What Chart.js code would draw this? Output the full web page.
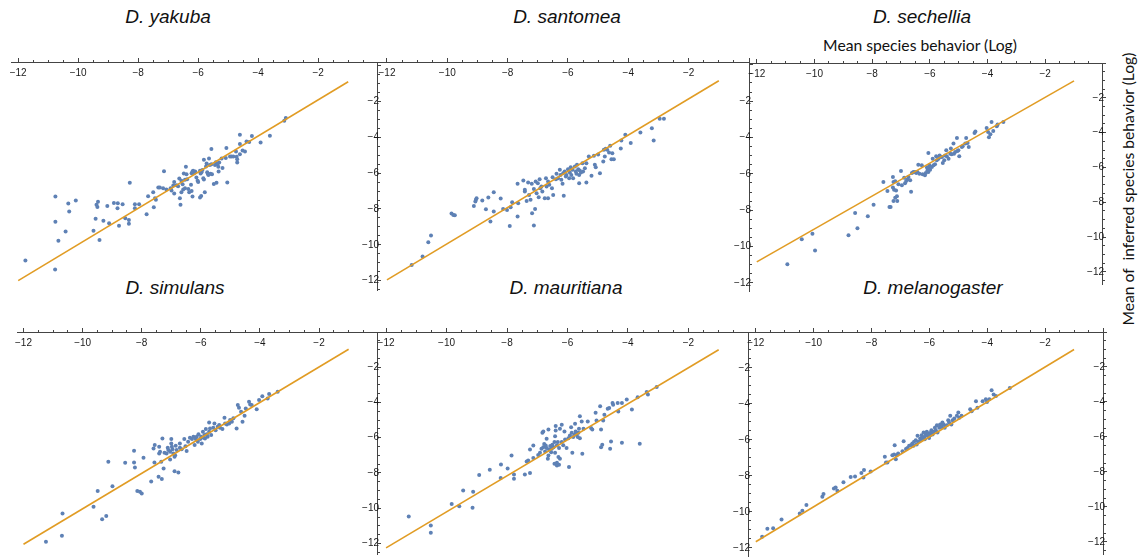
<!DOCTYPE html>
<html><head><meta charset="utf-8">
<script src="https://cdn.jsdelivr.net/npm/chart.js"></script>
<style>
html,body{margin:0;padding:0;background:#fff;}
body{width:1143px;height:558px;position:relative;overflow:hidden;}
canvas{position:absolute;}
.title{position:absolute;font-family:"Liberation Sans",Arial,sans-serif;font-style:italic;font-size:19px;line-height:19px;white-space:nowrap;transform:translateX(-50%);color:#111;}
.axlab{position:absolute;font-family:Lato,"Liberation Sans",sans-serif;font-size:16px;line-height:16px;white-space:nowrap;color:#111;}
</style></head><body>
<div class="title" style="left:168px;top:7px">D. yakuba</div>
<div class="title" style="left:567px;top:7px">D. santomea</div>
<div class="title" style="left:922px;top:7px">D. sechellia</div>
<div class="title" style="left:175px;top:278px">D. simulans</div>
<div class="title" style="left:566px;top:278px">D. mauritiana</div>
<div class="title" style="left:933px;top:278px">D. melanogaster</div>
<div class="axlab" id="xlab" style="left:920px;top:37px;transform:translateX(-50%)">Mean species behavior (Log)</div>
<div class="axlab" id="ylab" style="left:1128px;top:189px;transform:translate(-50%,-50%) rotate(-90deg)">Mean of &nbsp;inferred species behavior (Log)</div>
<script>
// ---------- data ----------
const speciesNames = ['D. yakuba','D. santomea','D. sechellia','D. simulans','D. mauritiana','D. melanogaster'];
const majorTicks = [-12,-10,-8,-6,-4,-2];

const yakuba = [[-11.76,-10.88],[-10.77,-11.37],[-10.76,-7.31],[-10.76,-8.71],[-10.66,-9.77],[-10.42,-9.25],[-10.33,-7.70],[-10.30,-8.14],[-10.08,-7.53],[-9.42,-8.55],[-9.49,-9.22],[-9.39,-7.77],[-9.34,-7.59],[-9.36,-7.89],[-9.29,-9.73],[-9.16,-8.65],[-9.03,-7.83],[-8.97,-8.80],[-8.81,-7.66],[-8.68,-7.68],[-8.69,-7.96],[-8.64,-8.93],[-8.52,-7.74],[-8.43,-8.52],[-8.31,-8.61],[-8.31,-8.82],
[-8.28,-6.53],[-8.11,-7.73],[-7.97,-7.73],[-8.11,-7.96],[-7.72,-8.29],[-7.67,-7.29],[-7.5,-7.06],[-7.48,-7.9],[-7.44,-7.4],[-7.41,-7.49],[-7.33,-6.8],[-7.28,-6.8],[-7.14,-5.9],
[-7.17,-6.84],[-7.06,-6.91],[-6.92,-6.84],[-6.89,-6.97],[-6.8,-6.5],[-6.83,-6.69],[-6.8,-7.14],[-6.72,-6.67],[-6.67,-6.73],[-6.63,-6.3],[-6.61,-7.4],[-6.59,-7.77],[-6.56,-6.43],[-6.52,-6.62],[-6.56,-7.06],[-6.5,-6.91],[-6.48,-6.02],[-6.44,-6.37],[-6.41,-5.65],[-6.44,-6.84],[-6.39,-6.06],[-6.37,-6.34],[-6.33,-6.88],[-6.3,-7.06],[-6.22,-6.0],[-6.24,-6.65],[-6.22,-6.99],[-6.19,-5.91],[-6.17,-5.87],[-6.14,-6.0],[-6.19,-7.31],[-6.1,-5.91],[-6.06,-6.24],[-6.02,-6.43],[-6.0,-6.5],[-5.94,-5.87],[-5.92,-6.02],[-5.89,-5.95],[-5.94,-7.36],[-5.9,-7.27],[-5.86,-5.82],[-5.81,-5.26],[-5.83,-6.28],[-5.81,-6.36],[-5.78,-7.06],[-5.74,-5.63],[-5.72,-5.46],[-5.7,-5.95],[-5.68,-6.04],[-5.66,-6.1],[-5.64,-5.18],[-5.61,-5.54],[-5.59,-6.04],[-5.56,-4.66],[-5.56,-5.5],[-5.54,-6.06],[-5.48,-6.6],[-5.44,-5.54],[-5.41,-5.39],[-5.39,-6.54],[-5.36,-5.5],[-5.33,-5.65],[-5.32,-5.91],[-5.3,-5.4],[-5.22,-5.18],[-5.19,-5.72],[-5.06,-4.6],[-5.03,-6.52],[-5.08,-5.16],[-4.94,-5.07],[-4.89,-5.07],[-4.83,-5.07],[-4.74,-4.79],[-4.72,-5.09],[-4.7,-5.22],[-4.7,-5.4],[-4.61,-3.86],[-4.61,-4.38],[-4.61,-4.94],[-4.52,-4.74],[-4.44,-4.79],[-4.39,-4.23],[-4.3,-4.27],[-4.21,-3.93],[-3.92,-4.29],[-3.61,-3.91],[-3.13,-3.08],[-3.08,-2.93]];
const yakubaFit = [[-12,-12],[-1,-0.9]];

const santomea = [[-11.18,-11.01],[-10.82,-10.55],[-10.63,-9.76],[-10.54,-9.39],[-9.86,-8.18],[-9.80,-8.26],[-9.75,-8.28],
[-9.12,-7.76],[-9.05,-7.43],[-9.03,-7.34],[-9.07,-7.52],[-8.84,-7.47],[-8.72,-7.94],[-8.64,-7.3],[-8.57,-8.62],[-8.46,-7.01],[-8.46,-8.07],[-8.23,-7.36],[-8.15,-7.93],[-8.02,-7.98],[-7.9,-7.83],[-7.93,-8.86],[-7.85,-7.56],[-7.67,-6.55],[-7.67,-8.35],[-7.65,-7.61],[-7.48,-6.37],[-7.43,-6.97],[-7.43,-6.88],[-7.37,-7.49],[-7.32,-6.48],[-7.24,-7.43],[-7.29,-7.16],[-7.19,-8.17],[-7.13,-8.84],[-7.09,-7.93],[-7.2,-6.55],[-7.13,-6.83],[-7.07,-6.42],[-7.04,-7.06],[-7.0,-6.51],[-6.97,-7.28],[-6.94,-6.29],[-6.92,-6.79],[-6.88,-6.7],[-6.85,-6.97],[-6.77,-7.34],[-6.73,-6.24],[-6.71,-6.7],[-6.66,-7.34],[-6.66,-6.42],[-6.62,-6.6],[-6.53,-6.79],[-6.51,-6.18],[-6.49,-7.16],[-6.4,-6.29],[-6.38,-6.0],[-6.33,-6.24],[-6.27,-5.78],[-6.25,-6.06],[-6.22,-6.33],[-6.18,-6.55],[-6.16,-5.96],[-6.14,-7.21],[-6.11,-5.87],[-6.07,-6.15],[-6.05,-6.06],[-6.0,-5.74],[-5.96,-6.24],[-5.94,-5.93],[-5.91,-5.63],[-5.89,-6.06],[-5.85,-5.78],[-5.83,-6.24],[-5.77,-5.6],[-5.74,-5.87],[-5.72,-6.0],[-5.7,-5.5],[-5.66,-5.74],[-5.63,-6.51],[-5.63,-6.06],[-5.61,-5.81],[-5.57,-5.93],[-5.52,-5.41],[-5.5,-5.87],[-5.44,-5.69],[-5.39,-5.41],[-5.39,-6.48],[-5.31,-5.05],[-5.22,-6.11],[-5.14,-5.0],[-5.11,-5.5],[-5.08,-5.63],[-5.0,-4.94],[-4.94,-5.96],[-4.83,-5.32],[-4.81,-4.68],[-4.78,-5.05],[-4.75,-4.62],[-4.7,-4.68],[-4.64,-4.83],[-4.56,-5.19],[-4.53,-4.86],[-4.48,-5.19],[-4.6,-4.46],[-4.25,-4.6],[-4.23,-4.17],[-4.1,-3.85],[-3.92,-4.31],[-3.6,-3.72],[-3.22,-3.49],[-3.16,-4.17],[-2.96,-2.97],[-2.82,-2.97]];
const santomeaFit = [[-12,-11.83],[-1,-0.88]];

const sechellia = [[-10.94,-11.57],[-10.44,-10.13],[-10.07,-9.81],[-9.98,-10.77],[-8.82,-9.9],[-8.59,-8.62],[-8.51,-9.5],[-8.15,-8.81],[-7.95,-8.14],
[-7.61,-6.84],[-7.47,-7.36],[-7.4,-8.28],[-7.36,-8.28],[-7.28,-6.55],[-7.26,-6.84],[-7.2,-6.8],[-7.28,-7.16],[-7.24,-7.28],[-7.17,-7.32],[-7.2,-7.74],[-7.14,-7.66],[-7.26,-7.93],[-7.13,-7.93],[-7.09,-6.97],[-7.0,-6.21],[-6.97,-7.03],[-6.89,-6.59],[-6.86,-6.91],[-6.82,-6.78],[-6.77,-6.7],[-6.74,-6.55],[-6.68,-6.74],[-6.62,-6.32],[-6.65,-7.4],[-6.57,-6.26],[-6.51,-6.26],[-6.47,-6.32],[-6.43,-6.26],[-6.4,-5.84],[-6.36,-6.36],[-6.28,-5.88],[-6.25,-6.4],[-6.17,-6.45],[-6.14,-6.32],[-6.1,-6.0],[-6.08,-6.17],[-6.05,-6.0],[-6.05,-6.26],[-6.01,-5.88],[-5.99,-6.13],[-6.05,-5.17],[-5.93,-5.98],[-5.9,-5.5],[-5.87,-5.88],[-5.82,-5.82],[-5.78,-5.36],[-5.76,-5.59],[-5.7,-5.5],[-5.66,-5.31],[-5.64,-5.4],[-5.58,-5.4],[-5.55,-5.75],[-5.5,-5.59],[-5.47,-5.31],[-5.43,-5.02],[-5.41,-5.36],[-5.35,-5.5],[-5.29,-5.21],[-5.27,-4.92],[-5.24,-5.25],[-5.18,-4.63],[-5.16,-5.21],[-5.12,-5.12],[-5.06,-4.31],[-5.04,-5.06],[-5.01,-5.02],[-4.98,-5.36],[-4.89,-4.83],[-4.86,-4.79],[-4.77,-4.63],[-4.74,-4.31],[-4.69,-4.6],[-4.65,-4.83],[-4.45,-4.02],[-4.42,-3.93],[-4.03,-3.74],[-3.98,-3.97],[-3.95,-4.26],[-3.9,-4.1],[-3.86,-3.39],[-3.8,-3.91],[-3.68,-3.64],[-3.65,-3.53],[-3.45,-3.39]];
const sechelliaFit = [[-12,-11.43],[-1,-1.03]];

const simulans = [[-11.24,-11.91],[-10.7,-11.57],[-10.68,-10.3],[-9.63,-9.92],[-9.49,-9.02],[-9.34,-10.63],[-9.2,-10.45],[-9.13,-7.37],[-8.99,-8.75],[-8.56,-7.42],[-8.26,-6.74],[-8.26,-7.41],[-8.23,-7.69],[-8.15,-9.02],[-8.06,-9.07],[-8.0,-9.17],[-7.68,-8.48],
[-7.94,-7.14],[-7.6,-6.61],[-7.56,-6.42],[-7.57,-7.4],[-7.43,-8.22],[-7.32,-8.35],[-7.41,-6.51],[-7.38,-6.8],[-7.41,-6.89],[-7.34,-7.37],[-7.3,-6.04],[-7.26,-7.75],[-7.23,-6.86],[-7.16,-6.9],[-7.12,-6.57],[-7.1,-6.7],[-7.04,-6.8],[-7.0,-6.08],[-7.0,-6.33],[-6.98,-6.51],[-6.96,-6.65],[-6.93,-6.9],[-6.89,-7.08],[-6.87,-6.99],[-7.04,-7.23],[-6.85,-6.46],[-6.82,-6.7],[-6.76,-7.97],[-6.89,-7.9],[-6.71,-6.33],[-6.71,-6.57],[-6.65,-6.65],[-6.56,-6.08],[-6.52,-6.48],[-6.48,-6.76],[-6.43,-6.23],[-6.37,-6.0],[-6.3,-6.08],[-6.25,-5.95],[-6.21,-6.42],[-6.17,-6.08],[-6.14,-5.95],[-6.1,-6.23],[-6.08,-5.81],[-6.02,-6.08],[-5.99,-5.95],[-5.97,-6.33],[-5.93,-5.66],[-5.91,-6.0],[-5.88,-5.85],[-5.86,-6.04],[-5.83,-5.51],[-5.8,-5.81],[-5.77,-5.95],[-5.72,-5.13],[-5.72,-5.66],[-5.69,-5.47],[-5.65,-5.85],[-5.58,-5.44],[-5.54,-5.19],[-5.5,-5.57],[-5.43,-5.38],[-5.38,-5.28],[-5.35,-5.44],[-5.27,-5.51],[-5.2,-4.87],[-5.18,-5.19],[-5.12,-5.25],[-5.04,-5.19],[-5.01,-5.0],[-4.95,-5.09],[-4.9,-4.9],[-4.79,-5.47],[-4.75,-4.15],[-4.71,-4.3],[-4.64,-4.53],[-4.59,-5.09],[-4.52,-4.75],[-4.48,-4.34],[-4.37,-3.96],[-4.33,-4.11],[-4.28,-4.15],[-4.11,-4.38],[-4.03,-3.86],[-3.92,-3.64],[-3.74,-3.77],[-3.69,-3.52],[-3.4,-3.39]];
const simulansFit = [[-12,-12.05],[-1,-0.98]];

const mauritiana = [[-11.25,-10.25],[-10.52,-10.75],[-10.52,-11.16],[-9.83,-9.56],[-9.58,-9.69],[-9.45,-8.81],[-9.12,-8.88],[-9.14,-9.77],[-8.92,-7.95],[-8.57,-7.66],[-8.21,-8.12],[-8.2,-7.36],[-7.98,-7.58],[-7.85,-6.86],[-7.77,-7.92],[-7.77,-8.16],[-3.38,-3.34],[-3.34,-3.47],[-3.05,-3.05],
[-7.41,-7.92],[-7.24,-7.83],[-7.35,-7.2],[-7.3,-7.14],[-7.24,-6.53],[-7.13,-6.31],[-7.13,-7.01],[-6.97,-6.83],[-6.91,-6.71],[-6.86,-6.49],[-6.8,-6.4],[-6.83,-5.6],[-6.8,-5.53],[-6.77,-6.22],[-6.74,-6.64],[-6.72,-6.31],[-6.69,-5.94],[-6.69,-6.45],[-6.65,-7.05],[-6.63,-5.42],[-6.63,-6.86],[-6.61,-6.53],[-6.57,-6.34],[-6.54,-6.68],[-6.52,-6.49],[-6.5,-6.27],[-6.46,-6.4],[-6.43,-6.12],[-6.41,-5.79],[-6.41,-6.71],[-6.39,-5.48],[-6.39,-5.23],[-6.35,-6.3],[-6.35,-7.27],[-6.32,-6.12],[-6.3,-6.95],[-6.28,-6.45],[-6.43,-7.32],[-6.35,-7.42],[-6.28,-7.38],[-6.25,-5.38],[-6.25,-7.05],[-6.19,-5.16],[-6.19,-6.12],[-6.14,-6.3],[-6.1,-5.53],[-6.08,-5.97],[-6.03,-6.45],[-5.97,-5.9],[-5.95,-7.51],[-5.92,-5.75],[-5.88,-5.29],[-5.86,-5.6],[-5.84,-6.71],[-5.81,-5.84],[-5.77,-5.71],[-5.75,-5.1],[-5.73,-5.53],[-5.7,-5.71],[-5.66,-5.84],[-5.64,-5.6],[-5.62,-5.38],[-5.59,-4.68],[-5.59,-5.9],[-5.53,-4.97],[-5.51,-6.77],[-5.47,-5.38],[-5.33,-4.97],[-5.22,-5.34],[-5.18,-5.42],[-5.07,-4.49],[-5.04,-4.92],[-4.92,-4.12],[-4.89,-5.42],[-4.89,-6.4],[-4.85,-6.27],[-4.82,-4.92],[-4.78,-4.6],[-4.67,-4.27],[-4.62,-4.23],[-4.59,-6.49],[-4.56,-6.08],[-4.51,-3.94],[-4.49,-4.05],[-4.32,-4.42],[-4.34,-3.94],[-4.2,-3.94],[-4.2,-6.16],[-4.04,-3.75],[-3.87,-4.31],[-3.68,-3.62],[-3.61,-6.21]];
const mauritianaFit = [[-12,-12.0],[-1,-0.99]];

const melanogaster = [[-11.78,-11.71],[-11.6,-11.26],[-11.4,-11.22],[-11.11,-10.72],[-10.48,-10.38],[-10.39,-10.23],[-10.25,-9.9],[-9.7,-9.43],[-9.66,-9.27],[-9.3,-8.95],[-9.24,-8.9],[-9.18,-9.08],[-8.97,-8.59],[-8.72,-8.29],[-8.57,-8.27],[-8.35,-8.07],[-8.28,-8.32],[-8.26,-7.9],[-8.03,-7.98],[-3.22,-3.2],
[-7.54,-7.14],[-7.5,-7.47],[-7.45,-7.47],[-7.28,-7.05],[-7.22,-7.01],[-7.2,-6.48],[-7.16,-7.28],[-7.13,-7.05],[-7.08,-6.95],[-6.93,-6.82],[-6.89,-6.25],[-6.81,-6.7],[-6.76,-6.63],[-6.7,-6.51],[-6.64,-6.48],[-6.59,-6.38],[-6.55,-6.51],[-6.53,-6.28],[-6.47,-6.19],[-6.44,-6.44],[-6.41,-5.94],[-6.39,-6.28],[-6.32,-6.09],[-6.3,-6.19],[-6.27,-5.9],[-6.24,-6.06],[-6.2,-5.75],[-6.18,-6.0],[-6.16,-6.13],[-6.12,-5.86],[-6.09,-5.71],[-6.07,-5.94],[-6.04,-5.81],[-6.01,-6.06],[-5.97,-5.9],[-5.95,-5.75],[-5.93,-5.62],[-5.89,-5.86],[-5.86,-5.71],[-5.81,-5.48],[-5.78,-5.62],[-5.74,-5.33],[-5.72,-5.75],[-5.66,-5.48],[-5.63,-5.29],[-5.58,-5.43],[-5.55,-5.18],[-5.51,-5.29],[-5.47,-5.48],[-5.4,-5.33],[-5.35,-5.05],[-5.32,-5.18],[-5.28,-4.79],[-5.24,-5.29],[-5.2,-5.05],[-5.14,-4.95],[-5.05,-4.79],[-5.0,-4.61],[-4.97,-4.91],[-4.89,-4.79],[-4.59,-4.42],[-4.54,-4.53],[-4.39,-3.96],[-4.34,-4.34],[-4.16,-3.96],[-4.05,-3.85],[-4.01,-4.0],[-3.93,-3.85],[-3.85,-3.33],[-3.78,-3.58],[-3.7,-3.66]];
const melanogasterFit = [[-12,-12],[-1,-1]];

// ---------- styling / layout ----------
const PT_COLOR = '#5E81B5';
const LINE_COLOR = '#E19C24';
const AXIS_COLOR = '#444';
const TEXT_COLOR = '#1a1a1a';
const TICK_FONT = {family: "'Liberation Sans', Arial, sans-serif", size: 10};
const TL = 4, TM = 2;

const panels = [
  {pts: yakuba,       fit: yakubaFit,       px0: 378.0,  ppx: 30.0,  py0: 65.9,  ppy: 17.9,  xMin: -12.24, xMax: -0.04, yMax: 0.2,  yMin: -12.52},
  {pts: santomea,     fit: santomeaFit,     px0: 749.4,  ppx: 30.2,  py0: 65.0,  ppy: 18.17, xMin: -12.33, xMax: 0,     yMax: 0.15, yMin: -12.44},
  {pts: sechellia,    fit: sechelliaFit,    px0: 1102.6, ppx: 28.83, py0: 62.6,  ppy: 17.4,  xMin: -12.27, xMax: -0.03, yMax: 0,    yMin: -12.7},
  {pts: simulans,     fit: simulansFit,     px0: 378.1,  ppx: 29.57, py0: 332.0, ppy: 17.6,  xMin: -12.22, xMax: -0.04, yMax: 0,    yMin: -12.6},
  {pts: mauritiana,   fit: mauritianaFit,   px0: 748.6,  ppx: 30.2,  py0: 331.6, ppy: 18.0,  xMin: -12.3,  xMax: -0.03, yMax: 0,    yMin: -12.45},
  {pts: melanogaster, fit: melanogasterFit, px0: 1102.3, ppx: 28.9,  py0: 331.7, ppy: 17.5,  xMin: -12.2,  xMax: 0,     yMax: 0,    yMin: -12.7}
];

const isMajor = (c) => !c || !c.tick || Math.abs(c.tick.value % 2) < 1e-6;
const fmtTick = (v) => majorTicks.includes(Math.round(v * 100) / 100) ? '\u2212' + Math.abs(v) : '';

function buildConfig(p, name) {
  return {
    type: 'scatter',
    data: {
      datasets: [
        {label: name + ' fit', data: p.fit.map(([x, y]) => ({x, y})), showLine: true, borderColor: LINE_COLOR,
         borderWidth: 1.6, pointRadius: 0, fill: false},
        {label: name, data: p.pts.map(([x, y]) => ({x, y})), pointRadius: 2, pointHoverRadius: 2,
         backgroundColor: PT_COLOR, pointBackgroundColor: PT_COLOR, borderWidth: 0, pointBorderWidth: 0}
      ]
    },
    options: {
      responsive: false, maintainAspectRatio: false, animation: false, devicePixelRatio: 1, events: [],
      layout: {padding: {left: 24, right: 12, top: 6, bottom: 16}},
      plugins: {legend: {display: false}, tooltip: {enabled: false}, title: {display: false}},
      scales: {
        x: {
          type: 'linear', position: 'top', min: p.xMin, max: p.xMax,
          border: {display: true, color: AXIS_COLOR, width: 1},
          grid: {drawOnChartArea: false, drawTicks: true, tickLength: TL, tickColor: AXIS_COLOR, tickWidth: 1,
                 tickBorderDash: (c) => isMajor(c) ? [] : [TM, 20],
                 tickBorderDashOffset: (c) => isMajor(c) ? 0 : (TM + 20) - (TL - TM)},
          ticks: {stepSize: 0.5, autoSkip: false, includeBounds: false, mirror: true, padding: 5,
                  maxRotation: 0, minRotation: 0, color: TEXT_COLOR, font: TICK_FONT, callback: fmtTick}
        },
        y: {
          type: 'linear', position: 'right', min: p.yMin, max: p.yMax,
          border: {display: true, color: AXIS_COLOR, width: 1},
          grid: {drawOnChartArea: false, drawTicks: true, tickLength: TL, tickColor: AXIS_COLOR, tickWidth: 1,
                 tickBorderDash: (c) => isMajor(c) ? [] : [TM, 20], tickBorderDashOffset: 0},
          ticks: {stepSize: 0.5, autoSkip: false, includeBounds: false, mirror: true, padding: 2,
                  color: TEXT_COLOR, font: TICK_FONT, callback: fmtTick}
        }
      }
    }
  };
}

function makePanel(p, name) {
  const tL = p.px0 + p.xMin * p.ppx, tR = p.px0 + p.xMax * p.ppx;
  const tT = p.py0 - p.yMax * p.ppy, tB = p.py0 - p.yMin * p.ppy;
  const w = tR - tL, h = tB - tT;
  const probe = document.createElement('canvas');
  probe.style.left = '-3000px'; probe.style.top = '0px';
  document.body.appendChild(probe);
  let W = Math.round(w + 60), H = Math.round(h + 50);
  probe.width = W; probe.height = H;
  const c0 = new Chart(probe, buildConfig(p, name));
  const a0 = c0.chartArea;
  W = Math.round(W + w - (a0.right - a0.left));
  H = Math.round(H + h - (a0.bottom - a0.top));
  c0.destroy(); probe.remove();
  const cv = document.createElement('canvas');
  cv.width = W; cv.height = H;
  document.body.appendChild(cv);
  const chart = new Chart(cv, buildConfig(p, name));
  const a = chart.chartArea;
  cv.style.left = Math.round(tL - a.left) + 'px';
  cv.style.top = Math.round(tT - a.top) + 'px';
}

panels.forEach((p, i) => makePanel(p, speciesNames[i]));

// size the two axis captions to the lengths they have in the figure
function fitCaption(id, targetLen, vertical) {
  const el = document.getElementById(id);
  const r = el.getBoundingClientRect();
  const len = vertical ? r.height : r.width;
  const fs = parseFloat(getComputedStyle(el).fontSize);
  if (len > 0) el.style.fontSize = (fs * targetLen / len).toFixed(2) + 'px';
}
fitCaption('xlab', 194, false);
fitCaption('ylab', 273, true);
</script>
</body></html>
